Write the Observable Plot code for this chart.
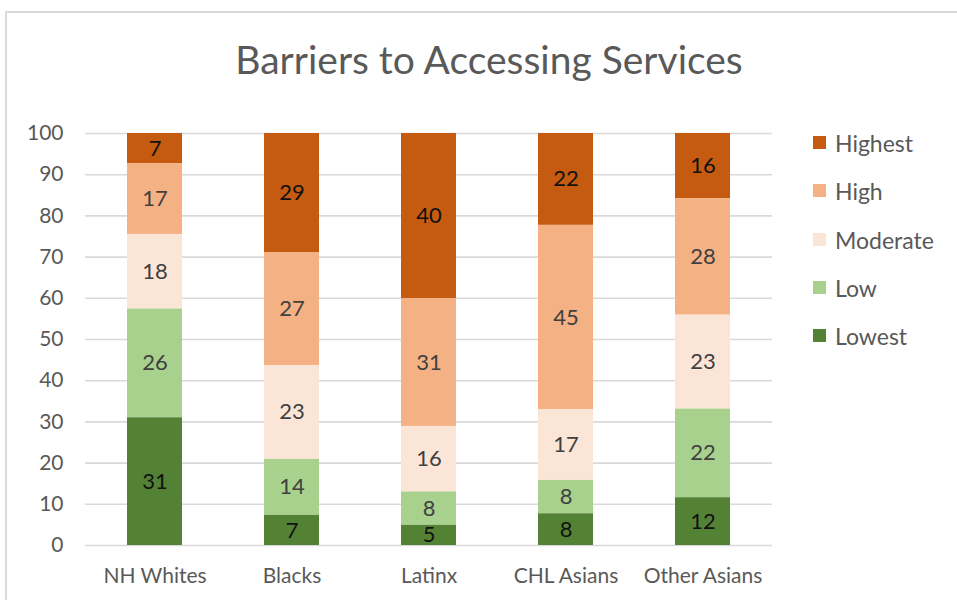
<!DOCTYPE html>
<html>
<head>
<meta charset="utf-8">
<script src="https://cdn.jsdelivr.net/npm/d3@7"></script>
<script src="https://cdn.jsdelivr.net/npm/@observablehq/plot@0.6"></script>
<style>
  html, body { margin: 0; padding: 0; background: #fff; }
  #wrap { position: relative; width: 957px; height: 600px; overflow: hidden; font-family: Lato, "Open Sans", sans-serif; }
  #frame { position: absolute; left: 5px; top: 11px; width: 1100px; height: 800px; border: 2px solid #d9d9d9; box-sizing: border-box; }
  #title { position: absolute; left: 0; width: 978px; top: 34px; text-align: center; font-size: 39px; color: #595959; line-height: 50px; }
  #chart { position: absolute; left: 0; top: 0; }
  #legend { position: absolute; left: 813px; top: 127px; }
  .item { height: 48.3px; display: flex; align-items: flex-start; font-size: 23px; color: #595959; line-height: 32px; }
  .sw { width: 13px; height: 13px; margin-right: 9px; margin-top: 9px; }
</style>
</head>
<body>
<div id="wrap">
  <div id="frame"></div>
  <div id="title"></div>
  <div id="chart"></div>
  <div id="legend"></div>
</div>
<script>
const title = "Barriers to Accessing Services";
const groups = ["NH Whites", "Blacks", "Latinx", "CHL Asians", "Other Asians"];
const levels = ["Highest", "High", "Moderate", "Low", "Lowest"];
const colors = ["#C55A11", "#F4B183", "#FBE5D6", "#A9D18E", "#548235"];
const highest  = [7.3, 28.9, 40.1, 22.3, 15.8];
const high     = [17.2, 27.4, 31.0, 44.7, 28.3];
const moderate = [18.1, 22.8, 15.9, 17.2, 22.8];
const low      = [26.4, 13.6, 8.1, 8.1, 21.5];
const lowest   = [31.0, 7.3, 4.9, 7.7, 11.6];
const yTicks = [0, 10, 20, 30, 40, 50, 60, 70, 80, 90, 100];
const darkLevels = ["Highest", "Lowest"];

const series = {Highest: highest, High: high, Moderate: moderate, Low: low, Lowest: lowest};
const data = [];
groups.forEach((g, i) => {
  levels.forEach(l => data.push({group: g, level: l, value: series[l][i]}));
});
const stackOrder = levels.slice().reverse(); // Lowest at bottom

document.getElementById("title").textContent = title;

const stackOpts = (extra) => Plot.stackY({x: "group", y: "value", z: "level", order: stackOrder, ...extra});

const chart = Plot.plot({
  width: 957,
  height: 600,
  marginLeft: 85,
  marginRight: 185,
  marginTop: 133,
  marginBottom: 55,
  style: {fontFamily: "Lato, 'Open Sans', sans-serif", fontSize: "21px", color: "#595959", background: "transparent", overflow: "visible"},
  x: {domain: groups, paddingInner: 0.6, paddingOuter: 0.3, label: null},
  y: {domain: [0, 100], label: null},
  color: {domain: levels, range: colors},
  marks: [
    Plot.ruleY(yTicks, {stroke: "#d9d9d9", strokeWidth: 1.6}),
    Plot.axisY({ticks: yTicks, tickSize: 0, tickPadding: 22, label: null, fill: "#595959"}),
    Plot.axisX({tickSize: 0, tickPadding: 23, label: null, fill: "#595959"}),
    Plot.barY(data, stackOpts({fill: "level"})),
    Plot.text(data, stackOpts({text: d => darkLevels.includes(d.level) ? String(Math.round(d.value)) : "", fill: "#111", fontSize: 22})),
    Plot.text(data, stackOpts({text: d => darkLevels.includes(d.level) ? "" : String(Math.round(d.value)), fill: "#404040", fontSize: 22}))
  ]
});
document.getElementById("chart").appendChild(chart);

const legend = document.getElementById("legend");
levels.forEach((l, i) => {
  const item = document.createElement("div");
  item.className = "item";
  const sw = document.createElement("div");
  sw.className = "sw";
  sw.style.background = colors[i];
  const t = document.createElement("span");
  t.textContent = l;
  item.appendChild(sw);
  item.appendChild(t);
  legend.appendChild(item);
});
</script>
</body>
</html>
